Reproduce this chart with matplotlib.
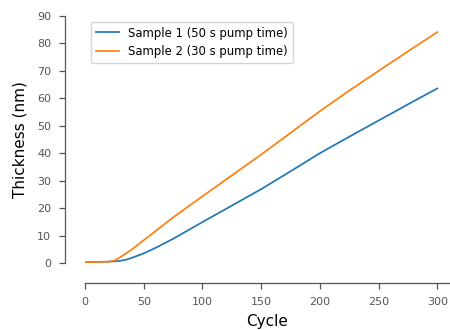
import matplotlib
matplotlib.use("Agg")
import matplotlib.pyplot as plt

cycles = [0, 10, 20, 25, 30, 35, 40, 50, 60, 75, 100, 125, 150, 175, 200, 225, 250, 275, 300]
sample1 = [0.3, 0.4, 0.5, 0.6, 0.8, 1.2, 1.9, 3.5, 5.5, 8.8, 14.9, 20.9, 26.9, 33.4, 40.0, 46.0, 51.9, 57.8, 63.6]
sample2 = [0.3, 0.35, 0.45, 0.9, 2.1, 3.5, 5.0, 8.3, 11.6, 16.6, 24.3, 31.9, 39.5, 47.4, 55.3, 62.8, 70.0, 77.1, 84.1]
labels = ["Sample 1 (50 s pump time)", "Sample 2 (30 s pump time)"]
xticks = [0, 50, 100, 150, 200, 250, 300]
yticks = [0, 10, 20, 30, 40, 50, 60, 70, 80, 90]

fig = plt.figure(figsize=(4.5, 3.3), dpi=100)
ax = fig.add_axes([85/450, 67/330, 364/450, 247/330])
ax.plot(cycles, sample1, color="#1f77b4", lw=1.25, label=labels[0])
ax.plot(cycles, sample2, color="#ff7f0e", lw=1.25, label=labels[1])

ax.set_xlim(0, 310)
ax.set_ylim(0, 90)
ax.set_xticks(xticks)
ax.set_yticks(yticks)

for s in ["top", "right"]:
    ax.spines[s].set_visible(False)
for s in ["left", "bottom"]:
    ax.spines[s].set_position(("outward", 14.4))
    ax.spines[s].set_color("#555555")
    ax.spines[s].set_linewidth(0.9)
ax.tick_params(axis="both", colors="#555555", labelsize=8, length=4.5, width=0.9, pad=5.5)

ax.set_xlabel("Cycle", fontsize=11, color="black", labelpad=5)
ax.set_ylabel("Thickness (nm)", fontsize=11, color="black", labelpad=7)

leg = ax.legend(loc="upper left", fontsize=8.4, frameon=True, handlelength=2.0)
leg.get_frame().set_edgecolor("#cccccc")

fig.savefig("out.png", dpi=100)
